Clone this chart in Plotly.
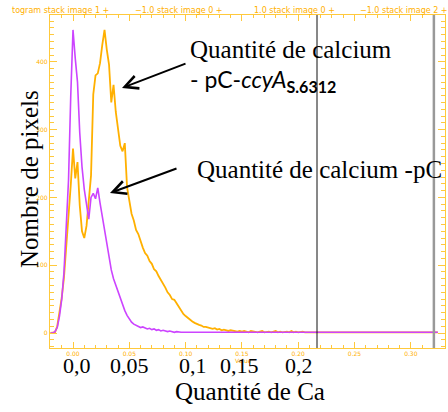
import plotly.graph_objects as go

# ---------------- data ----------------
bin_start = -0.020
bin_width = 0.002

counts_pc = [
    0, 0, 2, 8, 25, 50, 90, 150, 225, 350,
    447, 405, 370, 295, 245, 212, 186, 168, 200, 206,
    198, 214, 192, 172, 148, 128, 110, 93, 80, 70,
    60, 50, 41, 33, 26, 20, 16, 13, 11, 10,
    8, 9, 7, 6, 7, 5, 6, 4, 5, 3,
    4, 3, 2, 3, 2, 1, 2, 1, 1, 1,
    1, 1, 1, 1, 1, 1, 1, 1, 1, 1,
    1, 1, 1, 1, 1, 1, 1, 1, 1, 1,
    1, 1, 1, 1, 1, 1, 1, 1, 1, 1,
    1, 1, 1, 1, 1, 1, 1, 1, 1, 1,
    1, 1, 1, 1, 1, 1, 1, 1, 1, 1,
    1, 1, 1, 1, 1, 1, 1, 1, 1, 1,
    1, 1, 1, 1, 1, 1, 1, 1, 1, 1,
    1, 1, 1, 1, 1, 1, 1, 1, 1, 1,
    1, 1, 1, 1, 1, 1, 1, 1, 1, 1,
    1, 1, 1, 1, 1, 1, 1, 1, 1, 1,
    1, 1, 1, 1, 1, 1, 1, 1, 1, 1,
    1, 1, 1,
]

counts_ccya = [
    0, 0, 1, 10, 30, 52, 82, 125, 170, 218,
    272, 228, 252, 188, 150, 140, 158, 192, 232, 352,
    380, 383, 398, 425, 447, 418, 396, 340, 366, 326,
    302, 276, 268, 280, 215, 192, 176, 166, 152, 146,
    134, 126, 118, 114, 106, 102, 94, 91, 84, 79,
    72, 67, 60, 56, 50, 49, 44, 38, 34, 28,
    25, 22, 19, 17, 15, 13, 12, 11, 9, 9,
    8, 8, 6, 7, 5, 6, 4, 5, 4, 3,
    4, 3, 3, 2, 3, 2, 3, 2, 1, 3,
    2, 2, 1, 2, 3, 1, 2, 2, 1, 2,
    3, 1, 2, 1, 2, 2, 1, 3, 1, 2,
    1, 2, 2, 1, 1, 2, 1, 2, 1, 1,
    2, 1, 1, 1, 1, 1, 1, 1, 1, 1,
    1, 1, 1, 1, 1, 1, 1, 1, 1, 1,
    1, 1, 1, 1, 1, 1, 1, 1, 1, 1,
    1, 1, 1, 1, 1, 1, 1, 1, 1, 1,
    1, 1, 1, 1, 1, 1, 1, 1, 1, 1,
    1, 1, 1,
]

bins = [round(bin_start + i * bin_width, 4) for i in range(len(counts_pc))]

tick_vals = [0.0, 0.05, 0.10, 0.15, 0.20]
tick_texts = ["0,0", "0,05", "0,1", "0,15", "0,2"]
marker_lines = [0.2167, 0.3205]

header_texts = ["togram stack image 1 +", "\u22121.0 stack image 0 +",
                "1.0 stack image 0 +", "\u22121.0 stack image 2 +"]

# ---------------- layout geometry ----------------
W, H = 448, 412
L, R, T, B = 50, 445, 15, 348
ORANGE_AX = "#FFC93C"
ORANGE = "#FFB000"
PURPLE = "#CC44FF"


def px(xp):
    return (xp - L) / (R - L)


def py(yp):
    return (B - yp) / (B - T)


fig = go.Figure()
fig.add_trace(go.Scatter(x=bins, y=counts_ccya, mode="lines",
                         line=dict(color=ORANGE, width=1.8), showlegend=False))
fig.add_trace(go.Scatter(x=bins, y=counts_pc, mode="lines",
                         line=dict(color=PURPLE, width=1.6), showlegend=False))

# vertical marker lines
fig.add_shape(type="line", x0=marker_lines[0], x1=marker_lines[0], y0=0, y1=1,
              xref="x", yref="paper", line=dict(color="#111111", width=1))
fig.add_shape(type="line", x0=marker_lines[1], x1=marker_lines[1], y0=0, y1=1,
              xref="x", yref="paper", line=dict(color="#999999", width=2.5))

axis_common = dict(showline=True, linecolor=ORANGE_AX, linewidth=1.2, mirror="ticks",
                   ticks="inside", tickcolor=ORANGE_AX, showgrid=False, zeroline=False,
                   automargin=False,
                   tickfont=dict(family="DejaVu Sans", size=6, color=ORANGE))

fig.update_layout(
    width=W, height=H,
    margin=dict(l=L, r=W - R, t=T, b=H - B, autoexpand=False),
    paper_bgcolor="white", plot_bgcolor="white",
    xaxis=dict(range=[(L - 73) / 1126, (R - 73) / 1126], tick0=0, dtick=0.05,
               tickformat=".2f", ticklen=6,
               minor=dict(ticks="inside", dtick=0.01, ticklen=3, tickcolor=ORANGE_AX),
               **axis_common),
    yaxis=dict(range=[(333 - B) / 0.678, (333 - T) / 0.678], tick0=0, dtick=100,
               ticklen=7,
               minor=dict(ticks="inside", dtick=10, ticklen=4, tickcolor=ORANGE_AX),
               **axis_common),
)

ann = []
# header (orange IDL text)
for txt, xl in zip(header_texts, [10, 133, 252, 358]):
    ann.append(dict(text=txt, x=px(xl), y=py(10), xref="paper", yref="paper",
                    xanchor="left", yanchor="middle", showarrow=False,
                    font=dict(family="DejaVu Sans", size=8, color=ORANGE)))
# small orange axis title
ann.append(dict(text="Value", x=px(243), y=py(361), xref="paper", yref="paper",
                xanchor="center", yanchor="middle", showarrow=False,
                font=dict(family="DejaVu Sans", size=6, color=ORANGE)))

serif = "Liberation Serif, Times New Roman, serif"
# big pasted tick labels
for v, t, dx in zip(tick_vals, tick_texts, [4, 0, 7, -2, 1]):
    ann.append(dict(text=t, x=v, y=py(366), xref="x", yref="paper", xshift=dx,
                    xanchor="center", yanchor="middle", showarrow=False,
                    font=dict(family=serif, size=22, color="black")))
# axis titles
ann.append(dict(text="Quantité de Ca", x=px(250), y=py(392), xref="paper", yref="paper",
                xanchor="center", yanchor="middle", showarrow=False,
                font=dict(family=serif, size=25, color="black")))
ann.append(dict(text="Nombre de pixels", x=px(29), y=py(179), xref="paper", yref="paper",
                xanchor="center", yanchor="middle", textangle=-90, showarrow=False,
                font=dict(family=serif, size=25, color="black")))
# labels
ann.append(dict(text="Quantité de calcium", x=px(188), y=py(49), xref="paper", yref="paper",
                xanchor="left", yanchor="middle", showarrow=False,
                font=dict(family=serif, size=25, color="black")))
ann.append(dict(text="- pC-<i>ccyA</i><sub><b>S.6312</b></sub>", x=px(188), y=py(80),
                xref="paper", yref="paper", xanchor="left", yanchor="middle",
                showarrow=False,
                font=dict(family="Lato, Noto Sans, sans-serif", size=23, color="black")))
ann.append(dict(text="Quantité de calcium -pC", x=px(195), y=py(170), xref="paper",
                yref="paper", xanchor="left", yanchor="middle", showarrow=False,
                font=dict(family=serif, size=25, color="black")))
# arrows
for hx, hy, tx, ty in [(122, 88, 187, 63), (110, 193, 178, 168)]:
    ann.append(dict(text="", x=px(hx), y=py(hy), xref="paper", yref="paper",
                    ax=tx - hx, ay=ty - hy, showarrow=True, arrowhead=5,
                    arrowsize=1.3, arrowwidth=2, arrowcolor="black"))

fig.update_layout(annotations=ann)
fig.write_html("out.html", config={"displayModeBar": False},
               post_script="document.body.style.margin='0';document.body.style.overflow='hidden';")
